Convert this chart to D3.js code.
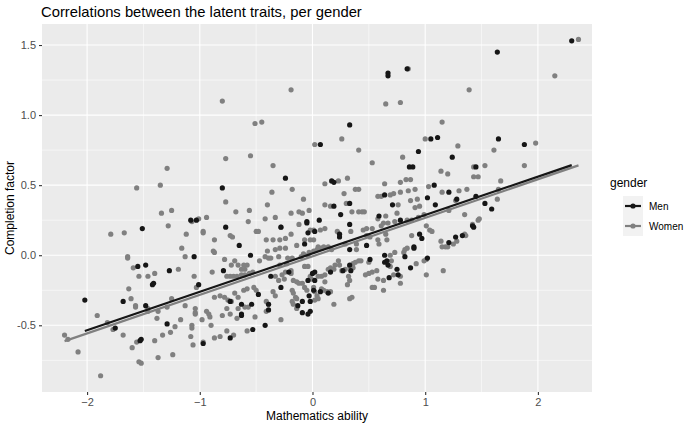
<!DOCTYPE html>
<html>
<head>
<meta charset="utf-8">
<script src="https://cdn.jsdelivr.net/npm/d3@7"></script>
<style>
  body { margin: 0; background: #fff; font-family: "Liberation Sans", Arial, sans-serif; }
</style>
</head>
<body>
<div id="chart"></div>
<script>
// Title and labels
const chartTitle = "Correlations between the latent traits, per gender";
const xLabel = "Mathematics ability";
const yLabel = "Completion factor";
const legendTitle = "gender";
const groups = ["Men", "Women"];

const xTicks = [-2, -1, 0, 1, 2];
const yTicks = [-0.5, 0.0, 0.5, 1.0, 1.5];
const yTickLabels = ["-0.5", "0.0", "0.5", "1.0", "1.5"];

// Points: [mathematics ability, completion factor]
const menPoints = [
  [0.67, 1.30], [0.67, 1.28], [0.84, 1.33], [0.33, 0.93], [0.07, 0.79], [2.30, 1.53], [1.64, 1.45],
  [1.05, 0.83], [1.11, 0.84], [1.65, 0.83], [1.88, 0.79], [-0.80, 0.48], [-1.08, 0.25], [-1.03, 0.25],
  [-1.51, 0.19], [-0.77, 0.20], [-1.05, -0.01], [-1.55, -0.08], [-1.48, -0.07], [-1.27, -0.11], [-0.79, -0.11],
  [-0.24, 0.55], [1.24, 0.70], [0.86, 0.63], [0.89, 0.63], [0.17, 0.53], [0.19, 0.52], [1.08, 0.50],
  [0.33, 0.37], [0.19, 0.35], [0.25, 0.29], [0.64, 0.43], [1.02, 0.41], [1.21, 0.45], [1.28, 0.40],
  [1.09, 0.36], [0.71, 0.36], [0.59, 0.28], [-0.65, 0.07], [-0.28, 0.20], [-0.05, 0.24], [-0.05, 0.23],
  [-0.04, 0.16], [0.06, 0.25], [0.02, 0.17], [-0.07, 0.08], [0.24, 0.15], [0.24, 0.13], [0.33, 0.22],
  [0.78, 0.25], [0.95, 0.15], [0.97, 0.12], [0.48, 0.07], [0.33, 0.04], [0.90, 0.06], [0.90, 0.05],
  [0.82, -0.01], [0.64, 0.00], [1.21, 0.09], [1.27, 0.13], [1.33, 0.14], [1.43, 0.20], [1.02, -0.02],
  [-0.55, 0.00], [-0.21, -0.12], [-0.37, -0.15], [0.00, -0.13], [0.02, -0.12], [-0.04, -0.18], [0.02, -0.18],
  [0.16, -0.12], [0.27, -0.11], [0.33, -0.07], [0.34, -0.11], [0.51, -0.03], [0.64, -0.05], [0.66, -0.04],
  [0.67, -0.07], [0.75, -0.10], [0.76, -0.14], [0.68, -0.16], [0.87, -0.09], [-0.73, -0.33], [-0.63, -0.35],
  [-0.54, -0.35], [-0.48, -0.28], [-0.63, -0.42], [-0.63, -0.43], [-0.39, -0.35], [-0.39, -0.39], [-0.42, -0.50],
  [-0.28, -0.23], [-0.13, -0.36], [-0.09, -0.33], [-0.09, -0.41], [-0.04, -0.42], [-0.02, -0.40], [-0.03, -0.29],
  [-0.02, -0.33], [0.01, -0.25], [0.07, -0.26], [0.14, -0.27], [-0.53, -0.53], [-0.73, -0.59], [1.45, 0.63],
  [1.45, 0.42], [1.53, 0.37], [1.59, 0.33], [1.42, 0.21], [0.94, 0.74], [-1.42, -0.21], [-1.41, -0.20],
  [-1.01, -0.21], [-2.02, -0.32], [-1.68, -0.33], [-1.48, -0.36], [-1.75, -0.52], [-1.53, -0.61], [-1.52, -0.60],
  [-1.29, -0.49], [-0.97, -0.63]
];

const womenPoints = [
  [-0.80, 1.10], [-0.19, 1.18], [0.85, 1.33], [0.65, 1.08], [0.78, 1.09], [-0.51, 0.94], [-0.45, 0.95],
  [0.26, 0.83], [0.02, 0.79], [0.41, 0.75], [2.36, 1.54], [2.15, 1.28], [1.39, 1.18], [1.15, 0.95],
  [1.00, 0.83], [1.29, 0.78], [1.98, 0.80], [1.61, 0.75], [-1.29, 0.62], [-1.35, 0.50], [-1.56, 0.48],
  [-0.77, 0.69], [-0.77, 0.38], [-1.34, 0.30], [-1.25, 0.32], [-1.07, 0.24], [-1.01, 0.26], [-0.94, 0.27],
  [-1.28, 0.21], [-1.79, 0.15], [-1.67, 0.16], [-1.12, 0.15], [-0.97, 0.17], [-0.97, 0.16], [-0.87, 0.11],
  [-1.16, 0.05], [-0.88, 0.03], [-0.87, 0.02], [-1.13, -0.01], [-1.64, -0.01], [-1.64, -0.02], [-0.78, -0.03],
  [-1.59, -0.09], [-1.40, -0.13], [-1.19, -0.10], [-0.89, -0.12],
  [-0.55, 0.71], [-0.35, 0.64], [0.53, 0.66], [0.80, 0.70], [1.14, 0.60], [1.20, 0.58], [1.43, 0.63],
  [0.11, 0.51], [0.23, 0.53], [0.31, 0.55], [0.64, 0.51], [0.78, 0.52], [0.83, 0.54], [0.87, 0.54],
  [1.43, 0.56], [-0.36, 0.45], [-0.18, 0.47], [-0.40, 0.36], [-0.08, 0.40], [-0.68, 0.31], [-0.56, 0.32],
  [-0.19, 0.30], [-0.12, 0.31], [-0.09, 0.30], [-0.03, 0.32], [-0.42, 0.26], [-0.33, 0.27], [-0.57, 0.24],
  [0.38, 0.47], [0.41, 0.47], [0.28, 0.44], [0.30, 0.37], [0.11, 0.36], [0.16, 0.35], [0.35, 0.31],
  [0.41, 0.31], [0.44, 0.31], [0.46, 0.31], [0.58, 0.42], [0.61, 0.42], [0.69, 0.43], [0.72, 0.44],
  [0.78, 0.45], [0.85, 0.46], [0.91, 0.47], [0.87, 0.39], [0.93, 0.40], [1.03, 0.49], [1.15, 0.45],
  [1.30, 0.46], [1.37, 0.47], [1.27, 0.39], [0.76, 0.36], [0.91, 0.34], [0.95, 0.35], [0.75, 0.30],
  [0.58, 0.26], [0.65, 0.28], [1.35, 0.29], [-0.73, 0.14], [-0.71, 0.13], [-0.50, 0.17], [-0.48, 0.17],
  [-0.28, 0.20], [-0.19, 0.15], [-0.41, 0.11], [-0.35, 0.11], [-0.29, 0.11], [-0.24, 0.12], [-0.40, 0.03],
  [-0.33, 0.04], [-0.29, 0.05], [-0.24, 0.05], [-0.12, 0.22], [-0.02, 0.18], [0.01, 0.18], [0.07, 0.18],
  [0.11, 0.19], [-0.07, 0.11], [-0.02, 0.11], [0.01, 0.11], [-0.14, 0.07], [0.05, 0.06], [0.10, 0.06],
  [0.14, 0.06], [0.17, 0.04], [0.22, 0.17], [0.34, 0.17], [0.45, 0.18], [0.48, 0.19], [0.53, 0.19],
  [0.61, 0.21], [0.63, 0.23], [0.67, 0.23], [0.73, 0.24], [0.84, 0.25], [0.88, 0.25], [0.94, 0.27],
  [0.99, 0.29], [1.01, 0.21], [1.04, 0.18], [1.06, 0.17], [0.88, 0.14], [0.65, 0.15], [0.66, 0.11],
  [0.58, 0.11], [0.59, 0.08], [0.48, 0.14], [0.51, 0.13], [0.39, 0.08], [0.29, 0.08], [0.39, 0.04],
  [0.82, 0.04], [0.84, 0.05], [0.81, 0.02], [0.73, 0.02], [0.69, 0.00], [1.14, 0.10], [1.18, 0.06],
  [1.20, 0.06], [1.28, 0.10], [1.35, 0.15], [1.42, 0.22], [1.25, 0.08], [1.15, 0.06], [0.99, -0.04],
  [1.01, -0.03], [1.16, -0.11], [1.01, -0.14], [-0.69, -0.04], [-0.72, -0.07], [-0.66, -0.07], [-0.61, -0.07],
  [-0.58, -0.07], [-0.63, -0.10], [-0.60, -0.10], [-0.76, -0.15], [-0.73, -0.15], [-0.70, -0.15], [-0.67, -0.15],
  [-0.63, -0.14], [-0.60, -0.14], [-0.56, -0.13], [-0.53, -0.12], [-0.47, -0.04], [-0.42, -0.01], [-0.39, -0.02],
  [-0.37, -0.02], [-0.30, -0.01], [-0.29, -0.07], [-0.23, -0.06], [-0.22, -0.02], [-0.18, -0.02], [-0.24, -0.12],
  [-0.19, -0.11], [-0.19, -0.13], [-0.33, -0.15], [-0.27, -0.14], [-0.30, -0.18], [-0.25, -0.17], [-0.17, -0.18],
  [-0.14, -0.19], [-0.12, -0.20], [-0.09, -0.20], [-0.10, -0.01], [-0.08, 0.01], [-0.04, 0.00], [-0.03, 0.02],
  [0.01, 0.03], [0.04, 0.04], [0.08, 0.05], [-0.07, -0.08], [-0.04, -0.08], [-0.02, -0.15], [-0.01, -0.17],
  [0.05, -0.15], [0.08, -0.15], [0.11, -0.14], [0.14, -0.10], [0.16, -0.09], [0.19, -0.10], [0.20, -0.07],
  [0.23, -0.04], [0.24, -0.07], [0.26, -0.11], [0.29, -0.10], [0.33, -0.08], [0.36, -0.06], [0.38, -0.05],
  [0.41, -0.04], [0.43, -0.04], [0.36, -0.09], [0.32, -0.15], [0.33, -0.18], [0.31, -0.21], [0.47, -0.14],
  [0.50, -0.13], [0.53, -0.12], [0.50, -0.05], [0.57, -0.11], [0.58, -0.17], [0.70, -0.04], [0.69, -0.08],
  [0.72, -0.14], [0.78, -0.15], [0.63, -0.18], [0.78, -0.20], [0.92, -0.06], [-0.78, -0.30], [-0.75, -0.32],
  [-0.72, -0.33], [-0.69, -0.27], [-0.66, -0.30], [-0.61, -0.25], [-0.58, -0.24], [-0.66, -0.38], [-0.60, -0.37],
  [-0.57, -0.37], [-0.52, -0.23], [-0.50, -0.25], [-0.76, -0.38], [-0.73, -0.42], [-0.67, -0.45], [-0.51, -0.44],
  [-0.41, -0.33], [-0.39, -0.35], [-0.41, -0.40], [-0.35, -0.26], [-0.33, -0.29], [-0.18, -0.25], [-0.17, -0.27],
  [-0.15, -0.30], [-0.14, -0.31], [-0.18, -0.33], [-0.17, -0.35], [-0.14, -0.38], [-0.07, -0.23], [-0.05, -0.25],
  [0.01, -0.23], [0.02, -0.26], [0.04, -0.29], [0.08, -0.24], [0.10, -0.25], [0.02, -0.32], [0.05, -0.31],
  [0.13, -0.26], [0.16, -0.26], [0.19, -0.35], [0.11, -0.19], [-0.28, -0.46], [0.35, -0.30], [0.33, -0.31],
  [0.53, -0.23], [0.55, -0.23], [0.63, -0.25], [-0.58, -0.54], [-0.70, -0.57], [-0.76, -0.54], [1.53, 0.64],
  [1.88, 0.64], [1.47, 0.56], [1.67, 0.53], [1.65, 0.47], [1.64, 0.40], [1.48, 0.26], [1.47, 0.25],
  [1.36, 0.14], [1.21, 0.32], [-1.54, -0.15], [-1.46, -0.15], [-1.05, -0.15], [-1.03, -0.23], [-1.63, -0.24],
  [-1.61, -0.31], [-1.57, -0.37], [-1.57, -0.36], [-1.46, -0.40], [-1.46, -0.38], [-1.37, -0.40], [-1.25, -0.31],
  [-1.29, -0.37], [-1.13, -0.36], [-1.04, -0.38], [-1.04, -0.41], [-1.04, -0.42], [-0.94, -0.40], [-0.92, -0.42],
  [-0.91, -0.44], [-0.87, -0.30], [-0.82, -0.29], [-1.38, -0.45], [-1.17, -0.46], [-1.22, -0.51], [-1.07, -0.50],
  [-1.07, -0.52], [-0.98, -0.46], [-0.90, -0.50], [-1.91, -0.43], [-1.82, -0.48], [-1.77, -0.53], [-1.68, -0.57],
  [-2.20, -0.57], [-2.17, -0.60], [-1.56, -0.62], [-1.40, -0.61], [-1.33, -0.57], [-1.26, -0.55], [-1.60, -0.66],
  [-2.08, -0.69], [-1.37, -0.73], [-1.24, -0.71], [-1.54, -0.76], [-1.52, -0.77], [-1.88, -0.86], [-0.97, -0.62],
  [-1.06, -0.64], [-1.08, -0.58], [-0.87, -0.59], [-0.82, -0.58], [-0.80, -0.43]
];

// Fitted lines (intercept, slope, x from, x to)
const menFit = [0.013, 0.274, -2.02, 2.30];
const womenFit = [-0.008, 0.275, -2.20, 2.36];

const colors = { Men: "#161616", Women: "#808080" };

const width = 686, height = 425;
const panel = { left: 42, right: 592, top: 24, bottom: 392 };

const svg = d3.select("#chart").append("svg")
  .attr("width", width).attr("height", height);

const x = d3.scaleLinear().domain([-2.40, 2.48]).range([panel.left, panel.right]);
const y = d3.scaleLinear().domain([-0.976, 1.65]).range([panel.bottom, panel.top]);

// panel background
svg.append("rect")
  .attr("x", panel.left).attr("y", panel.top)
  .attr("width", panel.right - panel.left).attr("height", panel.bottom - panel.top)
  .attr("fill", "#ebebeb");

const grid = svg.append("g");
const xMinor = [-1.5, -0.5, 0.5, 1.5];
const yMinor = [-0.75, -0.25, 0.25, 0.75, 1.25];
grid.selectAll(".xminor").data(xMinor).enter().append("line")
  .attr("x1", d => x(d)).attr("x2", d => x(d))
  .attr("y1", panel.top).attr("y2", panel.bottom)
  .attr("stroke", "#fff").attr("stroke-width", 0.55);
grid.selectAll(".yminor").data(yMinor).enter().append("line")
  .attr("y1", d => y(d)).attr("y2", d => y(d))
  .attr("x1", panel.left).attr("x2", panel.right)
  .attr("stroke", "#fff").attr("stroke-width", 0.55);
grid.selectAll(".xmajor").data(xTicks).enter().append("line")
  .attr("x1", d => x(d)).attr("x2", d => x(d))
  .attr("y1", panel.top).attr("y2", panel.bottom)
  .attr("stroke", "#fff").attr("stroke-width", 1.1);
grid.selectAll(".ymajor").data(yTicks).enter().append("line")
  .attr("y1", d => y(d)).attr("y2", d => y(d))
  .attr("x1", panel.left).attr("x2", panel.right)
  .attr("stroke", "#fff").attr("stroke-width", 1.1);

// axes
const xAxis = svg.append("g")
  .attr("transform", `translate(0,${panel.bottom})`)
  .call(d3.axisBottom(x).tickValues(xTicks).tickSize(3).tickPadding(3).tickFormat(d3.format("d")));
const yAxis = svg.append("g")
  .attr("transform", `translate(${panel.left},0)`)
  .call(d3.axisLeft(y).tickValues(yTicks).tickSize(3).tickPadding(3)
    .tickFormat((d, i) => yTickLabels[i]));
[xAxis, yAxis].forEach(a => {
  a.select(".domain").remove();
  a.selectAll("line").attr("stroke", "#333").attr("stroke-width", 1.1);
  a.selectAll("text").attr("fill", "#4d4d4d").style("font-size", "11px")
    .style("font-family", "Liberation Sans, Arial, sans-serif");
});

// points
const pts = svg.append("g");
const series = [
  { name: "Women", data: womenPoints },
  { name: "Men", data: menPoints }
];
series.forEach(s => {
  pts.selectAll(null).data(s.data).enter().append("circle")
    .attr("cx", d => x(d[0])).attr("cy", d => y(d[1]))
    .attr("r", 2.6).attr("fill", colors[s.name]);
});

// regression lines
const fits = [{ name: "Women", f: womenFit }, { name: "Men", f: menFit }];
fits.forEach(o => {
  const [a, b, x0, x1] = o.f;
  svg.append("line")
    .attr("x1", x(x0)).attr("y1", y(a + b * x0))
    .attr("x2", x(x1)).attr("y2", y(a + b * x1))
    .attr("stroke", colors[o.name]).attr("stroke-width", 2.2);
});

// title & axis labels
svg.append("text").attr("x", panel.left - 1).attr("y", 17)
  .attr("fill", "#000").style("font-size", "14.8px").text(chartTitle);
svg.append("text").attr("x", (panel.left + panel.right) / 2).attr("y", 420)
  .attr("text-anchor", "middle").style("font-size", "12px").text(xLabel);
svg.append("text").attr("transform", `translate(14,${(panel.top + panel.bottom) / 2}) rotate(-90)`)
  .attr("text-anchor", "middle").style("font-size", "12px").text(yLabel);

// legend
const lg = svg.append("g").attr("transform", "translate(606,0)");
lg.append("text").attr("x", 4).attr("y", 187).style("font-size", "12px").text(legendTitle);
groups.forEach((g, i) => {
  const ky = 196 + i * 20;
  lg.append("rect").attr("x", 17).attr("y", ky).attr("width", 20).attr("height", 20)
    .attr("fill", "#f2f2f2");
  lg.append("line").attr("x1", 19).attr("x2", 35).attr("y1", ky + 10).attr("y2", ky + 10)
    .attr("stroke", colors[g]).attr("stroke-width", 2.2);
  lg.append("circle").attr("cx", 27).attr("cy", ky + 10).attr("r", 2.6).attr("fill", colors[g]);
  lg.append("text").attr("x", 43).attr("y", ky + 14).style("font-size", "10px").text(g);
});
</script>
</body>
</html>
